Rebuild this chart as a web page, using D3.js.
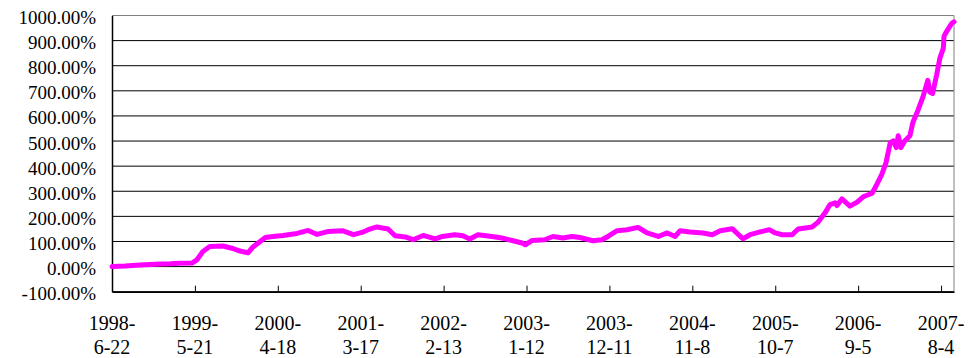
<!DOCTYPE html>
<html>
<head>
<meta charset="utf-8">
<script src="https://cdn.jsdelivr.net/npm/d3@7"></script>
<style>
  body { margin: 0; background: #fff; }
  svg text { font-family: "Liberation Serif", "DejaVu Serif", serif; }
</style>
</head>
<body>
<div id="container"></div>
<script>
// dates of the series
let dates = [
  "1998-06-22","1998-08-13","1998-10-13","1998-11-22","1999-01-01","1999-02-11","1999-03-21","1999-05-09",
  "1999-05-29","1999-06-22","1999-07-20","1999-09-10","1999-10-21","1999-11-18","1999-12-20","2000-01-09",
  "2000-02-28","2000-04-07","2000-05-09","2000-07-04","2000-08-18","2000-09-23","2000-11-07","2001-01-02",
  "2001-02-16","2001-03-22","2001-04-16","2001-05-21","2001-07-05","2001-08-02","2001-09-12","2001-10-13",
  "2001-11-23","2002-01-10","2002-02-08","2002-03-30","2002-05-01","2002-05-29","2002-07-01","2002-08-26",
  "2002-10-05","2002-11-15","2002-12-25","2003-01-07","2003-02-04","2003-03-26","2003-04-28","2003-06-07",
  "2003-07-13","2003-08-14","2003-10-06","2003-11-11","2003-12-05","2004-01-11","2004-02-20","2004-04-04",
  "2004-05-10","2004-06-24","2004-07-30","2004-08-31","2004-09-20","2004-10-30","2004-12-21","2005-01-27",
  "2005-02-28","2005-04-17","2005-05-30","2005-06-28","2005-08-07","2005-09-13","2005-10-07","2005-11-04",
  "2005-12-14","2006-01-07","2006-03-04","2006-03-27","2006-04-25","2006-05-15","2006-06-04","2006-06-12",
  "2006-07-02","2006-08-03","2006-09-01","2006-09-25","2006-10-31","2006-11-19","2006-12-09","2006-12-26",
  "2007-01-12","2007-01-24","2007-02-05","2007-02-13","2007-02-24","2007-03-12","2007-04-01","2007-04-13",
  "2007-05-03","2007-05-23","2007-06-12","2007-06-20","2007-07-01","2007-07-17","2007-07-30","2007-08-13",
  "2007-08-16","2007-08-26","2007-09-16","2007-09-25"
];

// cumulative return in percent
let returns = [
  0, 2, 6, 8, 10, 11, 13, 14,
  27, 60, 80, 82, 72, 62, 55, 78,
  116, 121, 124, 132, 144, 128, 140, 143,
  127, 136, 147, 158, 150, 123, 118, 107,
  124, 110, 120, 127, 123, 110, 127, 120,
  114, 104, 94, 87, 104, 107, 120, 114,
  120, 116, 103, 107, 120, 143, 147, 156,
  134, 120, 134, 120, 143, 138, 134, 127,
  143, 151, 111, 127, 138, 147, 134, 127,
  127, 150, 158, 176, 214, 247, 254, 243,
  270, 241, 257, 278, 292, 327, 367, 414,
  494, 501, 474, 521, 474, 501, 521, 575,
  622, 675, 742, 695, 689, 762, 829, 869,
  918, 936, 969, 975
];

// x axis tick labels
let tickDates = ["1998-6-22","1999-5-21","2000-4-18","2001-3-17","2002-2-13","2003-1-12",
  "2003-12-11","2004-11-8","2005-10-7","2006-9-5","2007-8-4"];

let yTicks = [-100, 0, 100, 200, 300, 400, 500, 600, 700, 800, 900, 1000];

let w = 969;
let h = 358;
let plotLeft = 112;
let plotRight = 954;
let plotTop = 15.5;
let plotBottom = 291.7;

let parseDate = d3.timeParse("%Y-%m-%d");

let data = dates.map(function(d, i){
  return { date: parseDate(d), value: returns[i] };
});

let viz = d3.select("#container")
  .append("svg")
    .attr("width", w)
    .attr("height", h)
    .style("background", "#fff")
;

let xScale = d3.scaleTime()
  .domain([parseDate("1998-06-22"), parseDate("2007-09-25")])
  .range([plotLeft, plotRight]);

let yScale = d3.scaleLinear().domain([-100, 1000]).range([plotBottom, plotTop]);

// gridlines
viz.append("g").attr("class", "grid")
  .selectAll("line")
  .data(yTicks)
  .enter()
  .append("line")
    .attr("x1", plotLeft)
    .attr("x2", plotRight)
    .attr("y1", function(d){ return yScale(d); })
    .attr("y2", function(d){ return yScale(d); })
    .attr("stroke", function(d){ return d == 1000 ? "#808080" : "#000"; })
    .attr("stroke-width", 1)
;

// right border
viz.append("line")
  .attr("x1", plotRight).attr("x2", plotRight)
  .attr("y1", plotTop).attr("y2", plotBottom)
  .attr("stroke", "#808080")
  .attr("stroke-width", 1)
;

// y axis
let yAxis = d3.axisLeft(yScale)
  .tickValues(yTicks)
  .tickSize(0)
  .tickPadding(16)
  .tickFormat(function(d){ return d.toFixed(2) + "%"; });

let yAxisGroup = viz.append("g").attr("class", "yaxis")
  .attr("transform", "translate(" + plotLeft + ",0)")
  .call(yAxis);
yAxisGroup.attr("font-family", null);
yAxisGroup.select(".domain").attr("stroke", "#000").attr("stroke-width", 1.5);
yAxisGroup.selectAll("text")
  .attr("font-size", 19)
  .attr("fill", "#000")
  .attr("dy", "0.42em");

// x axis
let xAxis = d3.axisBottom(xScale)
  .tickValues(tickDates.map(function(d){ return parseDate(d); }))
  .tickSizeInner(-6)
  .tickSizeOuter(0)
  .tickFormat("");

let xAxisGroup = viz.append("g").attr("class", "xaxis")
  .attr("transform", "translate(0," + plotBottom + ")")
  .call(xAxis);
xAxisGroup.select(".domain").attr("stroke", "#000").attr("stroke-width", 1.5);
xAxisGroup.selectAll(".tick line").attr("stroke", "#000");

let labels = viz.append("g").attr("class", "xlabels")
  .selectAll("text")
  .data(tickDates)
  .enter()
  .append("text")
    .attr("font-size", 20)
    .attr("fill", "#000")
    .attr("text-anchor", "middle")
;
labels.append("tspan")
  .attr("x", function(d){ return xScale(parseDate(d)); })
  .attr("y", plotBottom + 38)
  .text(function(d){ return d.split("-")[0] + "-"; });
labels.append("tspan")
  .attr("x", function(d){ return xScale(parseDate(d)); })
  .attr("y", plotBottom + 62)
  .text(function(d){ return d.split("-").slice(1).join("-"); });

// the series
let line = d3.line()
  .x(function(d){ return xScale(d.date); })
  .y(function(d){ return yScale(d.value); });

viz.append("path")
  .datum(data)
  .attr("d", line)
  .attr("fill", "none")
  .attr("stroke", "#ff00ff")
  .attr("stroke-width", 5)
  .attr("stroke-linejoin", "round")
  .attr("stroke-linecap", "round")
;
</script>
</body>
</html>
